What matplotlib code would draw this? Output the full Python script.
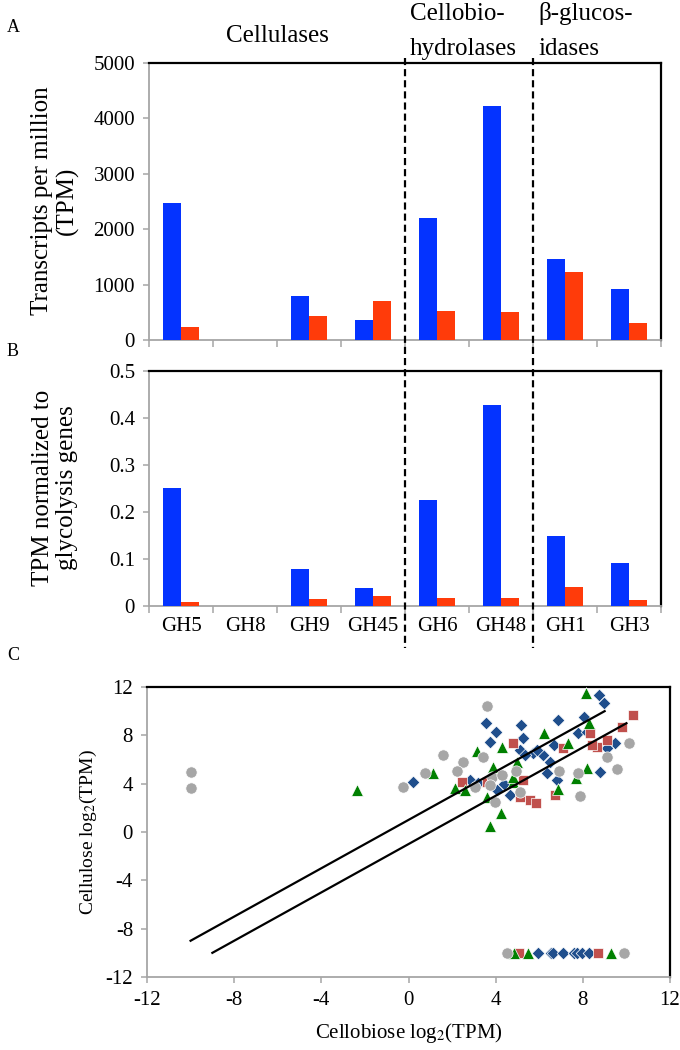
import matplotlib
matplotlib.use("Agg")
import matplotlib.pyplot as plt
import matplotlib.transforms as mtransforms
from matplotlib.lines import Line2D
from matplotlib.ticker import FuncFormatter, FixedLocator

plt.rcParams['font.family'] = ['Liberation Serif', 'DejaVu Serif']
plt.rcParams['mathtext.fontset'] = 'stix'
plt.rcParams['axes.unicode_minus'] = False

# ---------------- data ----------------
families = ["GH5", "GH8", "GH9", "GH45", "GH6", "GH48", "GH1", "GH3"]
tpm_cellulose = [2480, 0, 790, 360, 2200, 4220, 1470, 920]
tpm_cellobiose = [230, 0, 430, 700, 530, 500, 1230, 310]
norm_cellulose = [0.252, 0, 0.078, 0.038, 0.225, 0.428, 0.148, 0.092]
norm_cellobiose = [0.008, 0, 0.014, 0.022, 0.017, 0.016, 0.040, 0.012]

group_headers = ["Cellulases", "Cellobio-\nhydrolases", "\u03b2-glucos-\nidases"]

# scatter series (x = cellobiose log2 TPM, y = cellulose log2 TPM)
blue_x = [8.76, 8.97, 6.85, 3.56, 5.15, 4.0, 8.07, 7.76, 8.2, 5.27, 3.74, 6.68, 5.12,
          9.48, 9.1, 5.7, 6.16, 6.5, 8.79, 6.34, 6.8, 0.19, 2.82, 3.2, 4.66, 4.04,
          5.35, 5.88, 4.4, 3.9,
          5.96, 6.55, 6.65, 7.08, 7.6, 7.72, 7.95, 8.28]
blue_y = [11.34, 10.65, 9.27, 9.0, 8.85, 8.25, 9.54, 8.17, 8.3, 7.75, 7.47, 7.2, 6.78,
          7.39, 6.92, 6.56, 6.37, 5.82, 4.94, 4.86, 4.3, 4.16, 4.3, 4.03, 3.06, 3.47,
          6.37, 6.78, 4.0, 4.7,
          -10, -10, -10, -10, -10, -10, -10, -10]
red_x = [10.29, 9.79, 8.33, 4.81, 7.1, 8.64, 9.1, 2.44, 3.59, 5.27, 5.58, 5.85, 5.12,
         6.72, 8.4, 5.09, 8.68]
red_y = [9.68, 8.72, 8.22, 7.39, 6.92, 7.06, 7.6, 4.16, 4.16, 4.3, 2.65, 2.37, 2.87,
         3.06, 7.2, -10, -10]
green_x = [8.15, 8.3, 6.23, 4.27, 7.3, 3.13, 4.96, 3.89, 8.18, 7.69, 1.14, -2.38, 2.14,
           2.59, 6.88, 4.81, 4.23, 3.74, 3.59, 4.81, 4.84, 5.5, 9.28]
green_y = [11.48, 9.05, 8.17, 7.06, 7.39, 6.73, 5.82, 5.4, 5.27, 4.44, 4.86, 3.47, 3.61,
           3.47, 3.53, 4.16, 1.54, 0.5, 2.92, 4.58, -10, -10, -10]
gray_x = [-10, -10, 3.59, 10.13, 1.6, 3.43, 2.49, 9.1, 2.21, 4.93, 6.92, 7.76, 9.55,
          -0.23, 0.76, 3.82, 4.27, 3.74, 3.05, 5.12, 7.87, 3.97, 4.51, 9.9]
gray_y = [5.0, 3.64, 10.45, 7.34, 6.37, 6.23, 5.82, 6.23, 5.07, 5.07, 5.07, 4.91, 5.19,
          3.75, 4.86, 4.58, 4.72, 3.88, 3.75, 3.33, 2.97, 2.5, -10, -10]

# two-fold reference lines (log2 +1 / -1)
line_upper_x = [-10, 9]
line_lower_x = [-9, 10]
line_offset = 1

BLUE = '#0433FF'
RED = '#FF3B0A'
GRAY = '#A6A6A6'

W, H = 680, 1050
fig = plt.figure(figsize=(W / 100, H / 100), dpi=100)


def fx(px):
    return px / W


def fy(py):
    return 1 - py / H


def style_box(ax):
    ax.spines['left'].set_color(GRAY)
    ax.spines['bottom'].set_color(GRAY)
    ax.spines['left'].set_linewidth(1.3)
    ax.spines['bottom'].set_linewidth(1.3)
    ax.spines['top'].set_color('black')
    ax.spines['right'].set_color('black')
    ax.spines['top'].set_linewidth(1.6)
    ax.spines['right'].set_linewidth(1.6)
    ax.tick_params(axis='both', which='both', colors=GRAY, labelcolor='black',
                   direction='out', width=1.1, length=4, labelsize=15)


# ---------------- panel A and B ----------------
axA = fig.add_axes([fx(149), fy(340), fx(661) - fx(149), fy(63) - fy(340)])
axB = fig.add_axes([fx(149), fy(606), fx(661) - fx(149), fy(371) - fy(606)])

n = len(families)
centers = [i + 0.5 for i in range(n)]
bw = 0.285
for ax, b, r, top, step in [(axA, tpm_cellulose, tpm_cellobiose, 5000, 1000),
                            (axB, norm_cellulose, norm_cellobiose, 0.5, 0.1)]:
    ax.bar([c - bw / 2 for c in centers], b, width=bw, color=BLUE, zorder=3)
    ax.bar([c + bw / 2 for c in centers], r, width=bw, color=RED, zorder=3)
    ax.set_xlim(0, n)
    ax.set_ylim(0, top)
    ax.set_yticks([step * k for k in range(6)])
    ax.yaxis.set_major_formatter(FuncFormatter(lambda v, p: f"{v:g}"))
    ax.xaxis.set_major_locator(FixedLocator(centers))
    ax.xaxis.set_minor_locator(FixedLocator(list(range(n + 1))))
    style_box(ax)
    ax.tick_params(axis='x', which='major', length=0, pad=8)
    ax.tick_params(axis='x', which='minor', length=5)
    ax.tick_params(axis='y', pad=6)

axA.set_xticklabels([])
axB.set_xticklabels(families)

# dashed separators spanning both panels
trans = mtransforms.blended_transform_factory(axA.transData, fig.transFigure)
for xs in (4, 6):
    fig.add_artist(Line2D([xs, xs], [fy(58), fy(648)], transform=trans,
                          color='black', lw=1.6, linestyle=(0, (3.2, 1.8))))

# group headers
hdr_size = 18
fig.text(2, fy(42), group_headers[0], transform=trans, ha='center', va='baseline',
         fontsize=hdr_size)
l1, l2 = group_headers[1].split("\n")
fig.text(4.08, fy(20), l1, transform=trans, ha='left', va='baseline', fontsize=hdr_size)
fig.text(4.08, fy(55), l2, transform=trans, ha='left', va='baseline', fontsize=hdr_size)
l1, l2 = group_headers[2].split("\n")
fig.text(6.08, fy(20), l1, transform=trans, ha='left', va='baseline', fontsize=hdr_size)
fig.text(6.08, fy(55), l2, transform=trans, ha='left', va='baseline', fontsize=hdr_size)

# y labels
fig.text(fx(55), fy(201), "Transcripts per million\n(TPM)", rotation=90,
         ha='center', va='center', multialignment='center', fontsize=18,
         linespacing=1.15)
fig.text(fx(55), fy(488), "TPM normalized to\nglycolysis genes", rotation=90,
         ha='center', va='center', multialignment='center', fontsize=18,
         linespacing=1.15)

# panel letters
fig.text(fx(7), fy(27), "A", fontsize=13, ha='left', va='center')
fig.text(fx(7), fy(352), "B", fontsize=13, ha='left', va='center')
fig.text(fx(7), fy(656), "C", fontsize=13, ha='left', va='center')

# ---------------- panel C ----------------
axC = fig.add_axes([fx(147), fy(977), fx(670) - fx(147), fy(687) - fy(977)])
axC.set_xlim(-12, 12)
axC.set_ylim(-12, 12)
axC.set_xticks(range(-12, 13, 4))
axC.set_yticks(range(-12, 13, 4))
style_box(axC)
axC.tick_params(axis='x', pad=6)
axC.tick_params(axis='y', pad=6)

mk = dict(edgecolors='white', linewidths=0.5, zorder=3)
axC.scatter(blue_x, blue_y, marker='D', s=42, color='#1F4E8C', **mk)
axC.scatter(red_x, red_y, marker='s', s=56, color='#C0504D', **mk)
axC.scatter(green_x, green_y, marker='^', s=72, color='#008000', **mk)
axC.scatter(gray_x, gray_y, marker='o', s=66, color='#A6A6A6', **mk)

axC.plot(line_upper_x, [v + line_offset for v in line_upper_x], color='black', lw=1.6, zorder=4)
axC.plot(line_lower_x, [v - line_offset for v in line_lower_x], color='black', lw=1.6, zorder=4)

axC.set_xlabel(r"Cellobiose log$_2$(TPM)", fontsize=15, labelpad=8)
axC.set_ylabel(r"Cellulose log$_2$(TPM)", fontsize=14, labelpad=5)

fig.savefig("out.png", dpi=100)
